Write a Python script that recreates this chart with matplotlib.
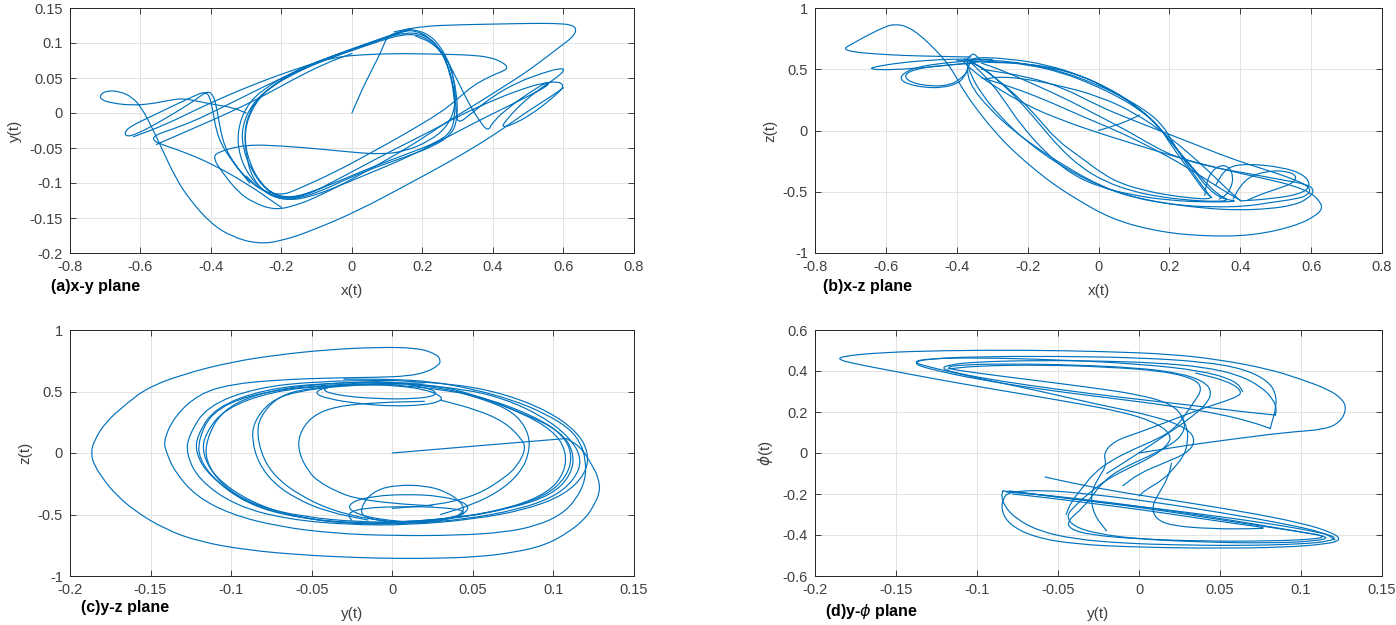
import numpy as np
import matplotlib
matplotlib.use("Agg")
import matplotlib.pyplot as plt
from matplotlib.path import Path
from matplotlib.patches import PathPatch
from matplotlib.ticker import FuncFormatter, MultipleLocator

plt.rcParams["font.family"] = ["Liberation Sans", "DejaVu Sans"]

# =========================
# Traced trajectory strokes
# =========================
# (a) x-y plane
xy_strokes = [
    [(0.00, 0.00), (0.03, 0.035), (0.06, 0.065), (0.085, 0.09), (0.10, 0.11),
     (0.14, 0.117), (0.18, 0.118), (0.22, 0.108), (0.255, 0.088), (0.278, 0.058), (0.29, 0.025),
     (0.293, -0.005), (0.28, -0.028), (0.24, -0.042), (0.17, -0.056), (0.10, -0.069), (0.03, -0.083),
     (-0.04, -0.098), (-0.11, -0.112), (-0.17, -0.121), (-0.22, -0.117), (-0.26, -0.10), (-0.29, -0.072),
     (-0.305, -0.04), (-0.30, -0.01), (-0.27, 0.02), (-0.21, 0.045), (-0.14, 0.065), (-0.06, 0.08),
     (0.02, 0.094), (0.09, 0.107), (0.15, 0.115),
     (0.20, 0.113), (0.24, 0.098), (0.27, 0.072), (0.288, 0.04), (0.296, 0.01), (0.298, -0.017),
     (0.34, 0.0), (0.40, 0.024), (0.47, 0.044), (0.54, 0.057), (0.59, 0.064), (0.605, 0.062),
     (0.58, 0.05), (0.52, 0.03), (0.47, 0.008), (0.435, -0.012), (0.425, -0.02), (0.45, -0.018),
     (0.51, -0.002), (0.57, 0.022), (0.602, 0.037), (0.59, 0.045), (0.54, 0.043), (0.47, 0.032),
     (0.39, 0.016), (0.30, -0.005), (0.22, -0.027), (0.12, -0.052), (0.03, -0.076), (-0.06, -0.10),
     (-0.13, -0.118), (-0.19, -0.123), (-0.245, -0.11), (-0.285, -0.082), (-0.31, -0.05),
     (-0.312, -0.02), (-0.285, 0.012), (-0.23, 0.038), (-0.15, 0.06), (-0.07, 0.077), (0.01, 0.091),
     (0.08, 0.103), (0.14, 0.112),
     (0.19, 0.112), (0.23, 0.10), (0.27, 0.076), (0.30, 0.046), (0.33, 0.015), (0.36, -0.01),
     (0.386, -0.027), (0.40, -0.012), (0.45, 0.01), (0.50, 0.028), (0.555, 0.045), (0.56, 0.04),
     (0.50, 0.024), (0.42, 0.004), (0.34, -0.016), (0.25, -0.04), (0.15, -0.065), (0.05, -0.086),
     (-0.05, -0.107), (-0.12, -0.12), (-0.18, -0.125), (-0.24, -0.116), (-0.29, -0.092),
     (-0.32, -0.06), (-0.325, -0.025), (-0.30, 0.01), (-0.25, 0.035), (-0.17, 0.058), (-0.09, 0.075),
     (-0.01, 0.09), (0.07, 0.104), (0.13, 0.114), (0.17, 0.12)],
    [(0.16, 0.12), (0.21, 0.115), (0.25, 0.097), (0.28, 0.066), (0.297, 0.03), (0.30, -0.005),
     (0.285, -0.03), (0.23, -0.048), (0.15, -0.063), (0.07, -0.077), (-0.01, -0.093), (-0.08, -0.11),
     (-0.15, -0.122), (-0.20, -0.124), (-0.25, -0.113), (-0.285, -0.09), (-0.30, -0.06),
     (-0.305, -0.03), (-0.29, 0.0), (-0.25, 0.03), (-0.18, 0.053), (-0.10, 0.072), (-0.02, 0.087),
     (0.06, 0.102), (0.12, 0.113), (0.16, 0.12)],
    [(0.12, 0.116), (0.20, 0.124), (0.30, 0.126), (0.40, 0.127), (0.50, 0.128), (0.58, 0.128),
     (0.625, 0.126), (0.638, 0.119), (0.625, 0.108), (0.604, 0.10), (0.56, 0.083), (0.51, 0.064),
     (0.46, 0.047), (0.406, 0.03), (0.35, 0.012), (0.29, -0.006), (0.23, -0.026), (0.17, -0.046),
     (0.074, -0.074), (-0.02, -0.10), (-0.10, -0.12), (-0.153, -0.131), (-0.218, -0.139),
     (-0.28, -0.128), (-0.323, -0.113), (-0.369, -0.084), (-0.392, -0.066), (-0.385, -0.056),
     (-0.30, -0.045), (-0.20, -0.047), (-0.10, -0.051), (0.0, -0.056), (0.08, -0.059),
     (0.15, -0.055), (0.22, -0.04), (0.27, -0.02), (0.295, 0.01), (0.29, 0.05), (0.27, 0.08),
     (0.23, 0.10), (0.18, 0.11)],
    [(-0.62, -0.034), (-0.53, -0.017), (-0.417, 0.011), (-0.284, 0.04), (-0.153, 0.064),
     (-0.05, 0.08), (0.05, 0.084), (0.15, 0.085), (0.25, 0.084), (0.33, 0.083), (0.39, 0.08),
     (0.43, 0.072), (0.443, 0.064), (0.425, 0.059), (0.39, 0.052), (0.34, 0.038), (0.30, 0.02),
     (0.25, 0.0), (0.15, -0.03), (0.05, -0.058), (-0.05, -0.085), (-0.15, -0.108), (-0.20, -0.118),
     (-0.26, -0.11), (-0.30, -0.09)],
    [(-0.29, -0.10), (-0.33, -0.075), (-0.36, -0.05), (-0.375, -0.02), (-0.385, 0.012),
     (-0.397, 0.029), (-0.415, 0.03), (-0.44, 0.02), (-0.49, 0.004), (-0.55, -0.014), (-0.61, -0.03),
     (-0.64, -0.034), (-0.645, -0.027), (-0.625, -0.018), (-0.57, -0.005), (-0.50, 0.012),
     (-0.44, 0.026), (-0.42, 0.03), (-0.405, 0.026), (-0.395, 0.005), (-0.385, -0.025),
     (-0.37, -0.045), (-0.345, -0.065), (-0.31, -0.088), (-0.26, -0.11), (-0.20, -0.122),
     (-0.15, -0.12)],
    [(-0.20, -0.135), (-0.30, -0.10), (-0.40, -0.072), (-0.48, -0.055), (-0.54, -0.045),
     (-0.565, -0.039), (-0.56, -0.032), (-0.52, -0.025), (-0.45, -0.012), (-0.38, 0.005),
     (-0.30, 0.025), (-0.20, 0.05), (-0.10, 0.072), (0.0, 0.09), (0.07, 0.103), (0.12, 0.112),
     (0.16, 0.118)],
    [(-0.555, -0.045), (-0.45, -0.022), (-0.35, 0.0), (-0.26, 0.022), (-0.17, 0.047),
     (-0.08, 0.07), (0.0, 0.085)],
    [(-0.30, 0.0), (-0.34, 0.008), (-0.39, 0.012), (-0.44, 0.017), (-0.48, 0.021), (-0.52, 0.018),
     (-0.57, 0.013), (-0.624, 0.011), (-0.68, 0.014), (-0.712, 0.019), (-0.715, 0.026),
     (-0.695, 0.032), (-0.66, 0.031), (-0.624, 0.023), (-0.596, 0.007), (-0.567, -0.021),
     (-0.54, -0.05), (-0.50, -0.093), (-0.46, -0.124), (-0.40, -0.158), (-0.34, -0.177),
     (-0.267, -0.187), (-0.20, -0.183), (-0.108, -0.167), (0.02, -0.139), (0.147, -0.105),
     (0.272, -0.071), (0.36, -0.045), (0.43, -0.022), (0.50, 0.003), (0.56, 0.022), (0.60, 0.036)],
]

# (b) x-z plane
xz_strokes = [
    [(0.0, 0.0), (0.04, 0.035), (0.08, 0.075), (0.116, 0.127)],
    [(-0.38, 0.58), (-0.30, 0.575), (-0.20, 0.545), (-0.10, 0.48), (0.0, 0.37), (0.07, 0.27),
     (0.13, 0.17), (0.18, 0.05), (0.21, -0.10), (0.25, -0.28), (0.29, -0.44), (0.31, -0.52),
     (0.32, -0.55), (0.30, -0.56), (0.26, -0.55), (0.20, -0.53), (0.13, -0.49), (0.06, -0.43),
     (0.01, -0.35), (-0.05, -0.22), (-0.117, -0.08), (-0.17, 0.10), (-0.219, 0.25), (-0.27, 0.38),
     (-0.31, 0.47), (-0.34, 0.53), (-0.36, 0.56), (-0.35, 0.60), (-0.25, 0.585), (-0.15, 0.54),
     (-0.05, 0.45), (0.03, 0.34), (0.10, 0.21), (0.16, 0.07), (0.20, -0.08), (0.25, -0.25),
     (0.30, -0.42), (0.34, -0.53), (0.37, -0.57), (0.33, -0.58), (0.26, -0.57), (0.18, -0.545),
     (0.10, -0.50), (0.02, -0.42), (-0.05, -0.30), (-0.11, -0.14), (-0.16, 0.03), (-0.21, 0.20),
     (-0.26, 0.35), (-0.30, 0.45), (-0.33, 0.52), (-0.37, 0.57), (-0.32, 0.555), (-0.20, 0.55),
     (-0.08, 0.48), (0.02, 0.36), (0.10, 0.22), (0.17, 0.03), (0.22, -0.15), (0.27, -0.33),
     (0.31, -0.48), (0.35, -0.56), (0.40, -0.58), (0.30, -0.585), (0.20, -0.57), (0.10, -0.53),
     (0.0, -0.46), (-0.08, -0.35), (-0.15, -0.18), (-0.22, 0.05), (-0.26, 0.22), (-0.30, 0.38),
     (-0.34, 0.50), (-0.37, 0.58)],
    [(-0.40, 0.57), (-0.30, 0.565), (-0.20, 0.54), (-0.10, 0.47), (-0.02, 0.38), (0.06, 0.27),
     (0.12, 0.16), (0.17, 0.04), (0.20, -0.10), (0.24, -0.26), (0.28, -0.42), (0.30, -0.50),
     (0.32, -0.55)],
    [(-0.33, 0.43), (-0.25, 0.36), (-0.15, 0.25), (-0.05, 0.12), (0.05, 0.0), (0.15, -0.14),
     (0.25, -0.30), (0.32, -0.43), (0.37, -0.52), (0.40, -0.57)],
    [(-0.32, 0.42), (-0.28, 0.44), (-0.20, 0.42), (-0.10, 0.36), (0.0, 0.28), (0.10, 0.15),
     (0.20, -0.05), (0.30, -0.30), (0.37, -0.50), (0.40, -0.57)],
    [(-0.36, 0.60), (-0.45, 0.605), (-0.55, 0.612), (-0.63, 0.625), (-0.69, 0.64), (-0.72, 0.665),
     (-0.70, 0.70), (-0.65, 0.78), (-0.60, 0.85), (-0.574, 0.868), (-0.54, 0.85), (-0.504, 0.78),
     (-0.46, 0.66), (-0.43, 0.56), (-0.41, 0.48), (-0.38, 0.32), (-0.33, 0.12), (-0.28, -0.05),
     (-0.243, -0.16), (-0.18, -0.32), (-0.117, -0.46), (-0.05, -0.58), (0.01, -0.68), (0.07, -0.75),
     (0.134, -0.80), (0.20, -0.835), (0.26, -0.853), (0.33, -0.862), (0.40, -0.86), (0.46, -0.84),
     (0.512, -0.81), (0.57, -0.76), (0.61, -0.70), (0.632, -0.64), (0.625, -0.58), (0.60, -0.51),
     (0.55, -0.45), (0.48, -0.40), (0.40, -0.35), (0.30, -0.28), (0.20, -0.20), (0.10, -0.11),
     (0.0, -0.02), (-0.10, 0.08), (-0.20, 0.20), (-0.30, 0.37), (-0.36, 0.50), (-0.38, 0.56)],
    [(-0.37, 0.57), (-0.368, 0.39), (-0.306, 0.17), (-0.24, 0.0), (-0.18, -0.13), (-0.09, -0.30),
     (0.01, -0.46), (0.10, -0.55), (0.20, -0.60), (0.30, -0.635), (0.39, -0.65), (0.48, -0.64),
     (0.55, -0.61), (0.59, -0.56), (0.61, -0.49), (0.59, -0.44), (0.512, -0.40), (0.42, -0.35),
     (0.32, -0.30), (0.22, -0.22), (0.15, -0.12), (0.08, 0.0), (0.0, 0.12), (-0.10, 0.27),
     (-0.20, 0.40), (-0.28, 0.50), (-0.33, 0.55)],
    [(-0.33, 0.50), (-0.20, 0.44), (-0.10, 0.35), (0.0, 0.20), (0.083, 0.10), (0.18, -0.01),
     (0.27, -0.11), (0.365, -0.22), (0.46, -0.31), (0.555, -0.40), (0.60, -0.47), (0.59, -0.53),
     (0.555, -0.56), (0.48, -0.59), (0.414, -0.62), (0.32, -0.625), (0.225, -0.61), (0.15, -0.575),
     (0.083, -0.53), (0.0, -0.45), (-0.10, -0.30), (-0.20, -0.10), (-0.28, 0.12), (-0.33, 0.30),
     (-0.36, 0.45), (-0.37, 0.55)],
    [(-0.30, 0.58), (-0.40, 0.585), (-0.50, 0.57), (-0.58, 0.545), (-0.63, 0.52), (-0.645, 0.505),
     (-0.62, 0.495), (-0.55, 0.50), (-0.47, 0.52), (-0.40, 0.54), (-0.34, 0.56)],
    [(-0.36, 0.57), (-0.44, 0.55), (-0.51, 0.52), (-0.55, 0.47), (-0.56, 0.42), (-0.54, 0.38),
     (-0.49, 0.35), (-0.44, 0.35), (-0.40, 0.38), (-0.38, 0.43), (-0.37, 0.50), (-0.36, 0.57)],
    [(-0.35, 0.55), (-0.45, 0.53), (-0.52, 0.50), (-0.55, 0.45), (-0.53, 0.39), (-0.47, 0.36),
     (-0.42, 0.37), (-0.39, 0.42), (-0.37, 0.48)],
    [(-0.38, 0.56), (-0.365, 0.60), (-0.354, 0.63), (-0.345, 0.61), (-0.33, 0.57)],
    [(0.30, -0.53), (0.305, -0.42), (0.32, -0.33), (0.345, -0.28), (0.37, -0.30), (0.38, -0.38),
     (0.375, -0.46), (0.36, -0.53), (0.34, -0.56)],
    [(0.38, -0.56), (0.40, -0.45), (0.43, -0.37), (0.48, -0.33), (0.53, -0.33), (0.56, -0.37),
     (0.55, -0.43), (0.50, -0.48), (0.45, -0.53), (0.42, -0.57)],
    [(0.33, -0.45), (0.36, -0.30), (0.42, -0.27), (0.52, -0.30), (0.58, -0.36), (0.60, -0.45),
     (0.57, -0.52), (0.48, -0.56), (0.40, -0.575)],
]

# (c) y-z plane
yz_strokes = [
    [(0.0, 0.0), (0.05, 0.055), (0.108, 0.118)],
    [(0.108, 0.118), (0.117, 0.05), (0.124, -0.098), (0.128, -0.20), (0.129, -0.317), (0.125, -0.43),
     (0.12, -0.53), (0.11, -0.64), (0.095, -0.75), (0.075, -0.81), (0.053, -0.845), (0.025, -0.857),
     (0.0, -0.857), (-0.023, -0.85), (-0.055, -0.83), (-0.09, -0.79), (-0.12, -0.72), (-0.141, -0.62),
     (-0.16, -0.47), (-0.172, -0.33), (-0.178, -0.236), (-0.185, -0.10), (-0.187, 0.0), (-0.185, 0.10),
     (-0.178, 0.25), (-0.165, 0.40), (-0.152, 0.53), (-0.13, 0.64), (-0.10, 0.74), (-0.07, 0.80),
     (-0.04, 0.84), (-0.01, 0.86), (0.016, 0.855), (0.028, 0.80), (0.03, 0.75), (0.029, 0.716),
     (0.022, 0.66), (0.01, 0.625), (-0.01, 0.615), (-0.04, 0.61), (-0.07, 0.595), (-0.10, 0.56),
     (-0.12, 0.48), (-0.135, 0.30), (-0.142, 0.10), (-0.14, 0.0), (-0.135, -0.15), (-0.122, -0.35),
     (-0.10, -0.50), (-0.07, -0.60), (-0.035, -0.655), (0.0, -0.672), (0.04, -0.67), (0.07, -0.645),
     (0.09, -0.59), (0.105, -0.50), (0.114, -0.38), (0.12, -0.22), (0.12, -0.05), (0.117, 0.08),
     (0.11, 0.20), (0.095, 0.32), (0.075, 0.43), (0.05, 0.52), (0.025, 0.58), (0.0, 0.60),
     (-0.03, 0.60)],
    [(0.0, 0.575), (0.03, 0.53), (0.053, 0.46), (0.084, 0.31), (0.105, 0.17), (0.113, 0.0),
     (0.111, -0.18), (0.099, -0.34), (0.074, -0.45), (0.04, -0.53), (0.0, -0.565), (-0.023, -0.57),
     (-0.058, -0.53), (-0.09, -0.42), (-0.114, -0.18), (-0.122, 0.0), (-0.121, 0.146), (-0.11, 0.37),
     (-0.079, 0.52), (-0.04, 0.57), (0.0, 0.575)],
    [(0.0, 0.555), (0.035, 0.51), (0.06, 0.44), (0.088, 0.30), (0.106, 0.15), (0.112, -0.02),
     (0.108, -0.20), (0.095, -0.35), (0.07, -0.46), (0.035, -0.54), (0.0, -0.575), (-0.03, -0.572),
     (-0.06, -0.52), (-0.088, -0.40), (-0.11, -0.20), (-0.118, 0.0), (-0.116, 0.16), (-0.104, 0.36),
     (-0.075, 0.50), (-0.04, 0.55), (0.0, 0.555)],
    [(0.01, 0.56), (0.045, 0.52), (0.07, 0.44), (0.093, 0.30), (0.11, 0.13), (0.118, -0.05),
     (0.113, -0.22), (0.10, -0.36), (0.078, -0.46), (0.045, -0.54), (0.01, -0.575), (-0.02, -0.578),
     (-0.052, -0.54), (-0.085, -0.44), (-0.108, -0.25), (-0.12, -0.05), (-0.12, 0.12), (-0.112, 0.33),
     (-0.09, 0.47), (-0.05, 0.55), (-0.01, 0.565), (0.01, 0.56)],
    [(-0.01, 0.58), (0.025, 0.555), (0.05, 0.48), (0.08, 0.33), (0.10, 0.18), (0.108, 0.02),
     (0.107, -0.16), (0.097, -0.32), (0.075, -0.44), (0.045, -0.52), (0.01, -0.56), (-0.02, -0.562),
     (-0.055, -0.52), (-0.085, -0.43), (-0.106, -0.26), (-0.116, -0.06), (-0.115, 0.12),
     (-0.106, 0.34), (-0.085, 0.48), (-0.05, 0.56), (-0.01, 0.58)],
    [(0.0, 0.59), (0.04, 0.56), (0.07, 0.48), (0.097, 0.34), (0.115, 0.17), (0.122, 0.0),
     (0.12, -0.17), (0.107, -0.34), (0.083, -0.46), (0.05, -0.54), (0.01, -0.585), (-0.025, -0.585),
     (-0.065, -0.54), (-0.097, -0.43), (-0.12, -0.22), (-0.128, 0.0), (-0.126, 0.15), (-0.115, 0.38),
     (-0.085, 0.53), (-0.045, 0.585), (0.0, 0.59)],
    [(0.02, 0.57), (-0.02, 0.56), (-0.05, 0.53), (-0.07, 0.47), (-0.082, 0.30), (-0.084, 0.15),
     (-0.08, -0.05), (-0.072, -0.20), (-0.058, -0.34), (-0.037, -0.47), (-0.01, -0.55), (0.02, -0.57)],
    [(0.01, 0.565), (-0.03, 0.55), (-0.06, 0.50), (-0.076, 0.42), (-0.086, 0.25), (-0.087, 0.10),
     (-0.083, -0.08), (-0.074, -0.24), (-0.06, -0.37), (-0.04, -0.48), (-0.015, -0.545)],
    [(0.02, 0.42), (-0.01, 0.41), (-0.035, 0.38), (-0.05, 0.30), (-0.058, 0.15), (-0.058, 0.0),
     (-0.052, -0.15), (-0.046, -0.23), (-0.035, -0.31), (-0.023, -0.37), (0.0, -0.41), (0.025, -0.43)],
    [(0.03, 0.43), (0.053, 0.35), (0.07, 0.25), (0.08, 0.12), (0.083, 0.04), (0.078, -0.10),
     (0.07, -0.20), (0.053, -0.34), (0.03, -0.42), (0.0, -0.45)],
    [(0.04, 0.50), (0.065, 0.40), (0.078, 0.30), (0.085, 0.15), (0.085, 0.0), (0.08, -0.15),
     (0.068, -0.30), (0.05, -0.42), (0.03, -0.50)],
    [(-0.02, 0.57), (-0.04, 0.54), (-0.049, 0.49), (-0.04, 0.44), (-0.02, 0.40), (0.0, 0.38),
     (0.02, 0.39), (0.03, 0.42), (0.031, 0.46), (0.02, 0.52), (0.0, 0.55), (-0.02, 0.56)],
    [(-0.03, 0.56), (-0.045, 0.52), (-0.035, 0.47), (-0.01, 0.44), (0.015, 0.44), (0.028, 0.47),
     (0.025, 0.52), (0.01, 0.555)],
    [(0.0, -0.565), (-0.02, -0.52), (-0.018, -0.40), (-0.01, -0.30), (0.003, -0.26), (0.02, -0.265),
     (0.033, -0.31), (0.043, -0.40), (0.045, -0.48), (0.035, -0.545), (0.015, -0.57)],
    [(0.02, -0.57), (-0.01, -0.54), (-0.027, -0.47), (-0.026, -0.40), (-0.012, -0.35), (0.01, -0.335),
     (0.03, -0.35), (0.045, -0.40), (0.048, -0.46), (0.04, -0.52), (0.02, -0.56)],
    [(-0.025, -0.55), (-0.028, -0.49), (-0.018, -0.447), (0.005, -0.435), (0.03, -0.44),
     (0.046, -0.47), (0.042, -0.52), (0.015, -0.555)],
]

# (d) y-phi plane
yphi_strokes = [
    [(0.0, 0.0), (0.03, 0.038), (0.06, 0.07), (0.09, 0.10), (0.115, 0.115), (0.124, 0.15),
     (0.128, 0.21), (0.126, 0.26), (0.117, 0.31), (0.10, 0.36), (0.08, 0.41), (0.05, 0.455),
     (0.02, 0.482), (-0.02, 0.495), (-0.07, 0.502), (-0.12, 0.50), (-0.16, 0.49), (-0.183, 0.472),
     (-0.186, 0.455), (-0.172, 0.43), (-0.152, 0.40), (-0.125, 0.36), (-0.10, 0.325), (-0.07, 0.285),
     (-0.04, 0.245), (-0.01, 0.20), (0.01, 0.15), (0.02, 0.09), (0.018, 0.04), (0.008, -0.02),
     (-0.008, -0.08), (-0.02, -0.13), (-0.03, -0.19), (-0.04, -0.26), (-0.045, -0.31), (-0.04, -0.36),
     (-0.025, -0.395), (0.0, -0.42), (0.04, -0.435), (0.08, -0.44), (0.11, -0.43), (0.118, -0.41),
     (0.10, -0.385), (0.07, -0.345), (0.035, -0.30), (0.0, -0.26), (-0.035, -0.225), (-0.065, -0.20),
     (-0.082, -0.19)],
    [(0.084, 0.185), (0.06, 0.205), (0.03, 0.235), (-0.01, 0.27), (-0.05, 0.31), (-0.085, 0.35),
     (-0.11, 0.385), (-0.122, 0.41), (-0.118, 0.43), (-0.10, 0.445), (-0.06, 0.452), (-0.02, 0.448),
     (0.01, 0.44), (0.04, 0.42), (0.062, 0.38), (0.076, 0.32), (0.083, 0.26), (0.085, 0.21),
     (0.084, 0.185)],
    [(0.081, 0.12), (0.07, 0.15), (0.05, 0.19), (0.02, 0.23), (-0.02, 0.27), (-0.06, 0.31),
     (-0.10, 0.36), (-0.13, 0.41), (-0.14, 0.44), (-0.13, 0.46), (-0.10, 0.47), (-0.05, 0.472),
     (0.0, 0.465), (0.04, 0.445), (0.065, 0.41), (0.08, 0.35), (0.085, 0.28), (0.084, 0.20),
     (0.082, 0.15), (0.081, 0.12)],
    [(0.064, 0.30), (0.06, 0.35), (0.04, 0.40), (0.0, 0.435), (-0.05, 0.455), (-0.10, 0.465),
     (-0.13, 0.46), (-0.14, 0.445), (-0.13, 0.42), (-0.10, 0.366), (-0.06, 0.30), (-0.024, 0.234),
     (0.01, 0.18), (0.03, 0.12), (0.035, 0.06), (0.03, 0.0), (0.015, -0.05), (0.0, -0.10),
     (-0.01, -0.16)],
    [(-0.02, -0.10), (0.0, 0.0), (0.015, 0.08), (0.03, 0.16), (0.042, 0.24), (0.045, 0.30),
     (0.04, 0.35), (0.025, 0.39), (0.0, 0.415), (-0.04, 0.43), (-0.08, 0.435), (-0.112, 0.43),
     (-0.12, 0.415), (-0.105, 0.395), (-0.07, 0.36), (-0.03, 0.32), (0.0, 0.285), (0.02, 0.24),
     (0.028, 0.17), (0.028, 0.10), (0.02, 0.04), (0.005, -0.02), (-0.012, -0.08), (-0.022, -0.14),
     (-0.028, -0.20), (-0.035, -0.27), (-0.044, -0.33), (-0.043, -0.37), (-0.03, -0.40),
     (0.0, -0.42), (0.04, -0.43), (0.08, -0.43), (0.11, -0.42), (0.115, -0.405), (0.10, -0.385),
     (0.07, -0.35), (0.03, -0.30), (0.0, -0.265), (-0.03, -0.235), (-0.06, -0.205), (-0.08, -0.185)],
    [(-0.084, -0.185), (-0.06, -0.205), (-0.03, -0.235), (0.01, -0.27), (0.05, -0.31),
     (0.085, -0.35), (0.11, -0.385), (0.122, -0.41), (0.118, -0.43), (0.10, -0.445), (0.06, -0.452),
     (0.02, -0.448), (-0.01, -0.44), (-0.04, -0.42), (-0.062, -0.38), (-0.076, -0.32),
     (-0.083, -0.26), (-0.085, -0.21), (-0.084, -0.185)],
    [(-0.058, -0.117), (-0.045, -0.14), (-0.02, -0.18), (0.02, -0.23), (0.06, -0.28), (0.10, -0.34),
     (0.12, -0.39), (0.125, -0.425), (0.115, -0.445), (0.09, -0.46), (0.05, -0.465), (0.0, -0.46),
     (-0.04, -0.445), (-0.065, -0.41), (-0.08, -0.35), (-0.085, -0.28), (-0.084, -0.22),
     (-0.08, -0.19), (-0.06, -0.18), (-0.03, -0.20), (0.01, -0.24), (0.05, -0.29), (0.09, -0.345),
     (0.115, -0.39), (0.121, -0.425)],
    [(0.02, -0.05), (0.018, -0.12), (0.012, -0.20), (0.008, -0.26), (0.01, -0.32), (0.02, -0.355),
     (0.045, -0.37), (0.07, -0.37), (0.08, -0.366), (0.06, -0.345), (0.03, -0.31), (0.0, -0.275),
     (-0.03, -0.245), (-0.06, -0.215), (-0.078, -0.20)],
    [(-0.045, -0.30), (-0.042, -0.24), (-0.035, -0.17), (-0.028, -0.10), (-0.018, -0.04),
     (-0.003, 0.02), (0.012, 0.07), (0.022, 0.12), (0.028, 0.18), (0.034, 0.25), (0.039, 0.31),
     (0.035, 0.36), (0.015, 0.40), (-0.02, 0.42), (-0.06, 0.43), (-0.10, 0.425), (-0.118, 0.41)],
    [(-0.02, -0.38), (-0.028, -0.30), (-0.03, -0.20), (-0.025, -0.12), (-0.02, -0.06),
     (-0.022, 0.0), (-0.015, 0.06), (0.0, 0.10), (0.02, 0.16), (0.04, 0.22), (0.06, 0.27),
     (0.064, 0.30), (0.055, 0.35), (0.035, 0.39)],
    [(0.026, 0.177), (0.03, 0.12), (0.03, 0.05), (0.028, -0.01), (0.022, -0.07), (0.015, -0.13),
     (0.004, -0.18), (0.0, -0.21)],
]

# axis limits
xy_xlim, xy_ylim = (-0.8, 0.8), (-0.2, 0.15)
xz_xlim, xz_ylim = (-0.8, 0.8), (-1.0, 1.0)
yz_xlim, yz_ylim = (-0.2, 0.15), (-1.0, 1.0)
yphi_xlim, yphi_ylim = (-0.2, 0.15), (-0.6, 0.6)

LINE_COLOR = "#0072BD"
TICK_GRAY = "#404040"


def tick_fmt(v, pos):
    s = f"{round(v, 4):g}"
    return "0" if s in ("-0", "0") else s


def stroke_path(pts):
    # quadratic Bezier through the traced points (points act as control vertices)
    pts = np.asarray(pts, dtype=float)
    if len(pts) < 3:
        return Path(pts)
    mids = (pts[:-1] + pts[1:]) / 2.0
    verts = [pts[0], mids[0]]
    codes = [Path.MOVETO, Path.LINETO]
    for i in range(1, len(pts) - 1):
        verts += [pts[i], mids[i]]
        codes += [Path.CURVE3, Path.CURVE3]
    verts.append(pts[-1])
    codes.append(Path.LINETO)
    return Path(verts, codes)


def draw_panel(ax, strokes, xlim, ylim, xstep, ystep, xlabel, ylabel, tag,
               xlab_y, ylab_x, tag_x, tag_y):
    for s in strokes:
        ax.add_patch(PathPatch(stroke_path(s), facecolor="none", edgecolor=LINE_COLOR,
                               lw=0.85, joinstyle="round", capstyle="round"))
    ax.set_xlim(*xlim)
    ax.set_ylim(*ylim)
    ax.xaxis.set_major_locator(MultipleLocator(xstep))
    ax.yaxis.set_major_locator(MultipleLocator(ystep))
    ax.xaxis.set_major_formatter(FuncFormatter(tick_fmt))
    ax.yaxis.set_major_formatter(FuncFormatter(tick_fmt))
    ax.grid(True, color="#e3e3e3", lw=0.7)
    ax.set_axisbelow(True)
    ax.tick_params(direction="in", top=True, right=True, length=4, width=0.6,
                   labelsize=10.5, labelcolor=TICK_GRAY, color="#262626", pad=5)
    for sp in ax.spines.values():
        sp.set_color("#262626")
        sp.set_linewidth(0.7)
    ax.set_xlabel(xlabel, fontsize=11, color=TICK_GRAY)
    ax.set_ylabel(ylabel, fontsize=11, color=TICK_GRAY)
    ax.xaxis.set_label_coords(0.5, xlab_y)
    ax.yaxis.set_label_coords(ylab_x, 0.5)
    ax.text(tag_x, tag_y, tag, transform=ax.transAxes, ha="left", va="center",
            fontsize=11.5, fontweight="bold", color="black")


fig = plt.figure(figsize=(13.96, 6.25), dpi=100)

ax_a = fig.add_axes([0.0501, 0.5952, 0.404, 0.392])
ax_b = fig.add_axes([0.5838, 0.5952, 0.4062, 0.392])
ax_c = fig.add_axes([0.0501, 0.0784, 0.404, 0.3936])
ax_d = fig.add_axes([0.5838, 0.0784, 0.4062, 0.3936])

draw_panel(ax_a, xy_strokes, xy_xlim, xy_ylim, 0.2, 0.05, "x(t)", "y(t)", "(a)x-y plane",
           -0.125, -0.085, -0.033, -0.135)
draw_panel(ax_b, xz_strokes, xz_xlim, xz_ylim, 0.2, 0.5, "x(t)", "z(t)", "(b)x-z plane",
           -0.125, -0.067, 0.014, -0.135)
draw_panel(ax_c, yz_strokes, yz_xlim, yz_ylim, 0.05, 0.5, "y(t)", "z(t)", "(c)y-z plane",
           -0.125, -0.066, 0.019, -0.13)
draw_panel(ax_d, yphi_strokes, yphi_xlim, yphi_ylim, 0.05, 0.2, "y(t)", r"$\phi$(t)",
           r"(d)y-$\phi$ plane", -0.125, -0.07, 0.018, -0.145)

fig.savefig("out.png", dpi=100)
